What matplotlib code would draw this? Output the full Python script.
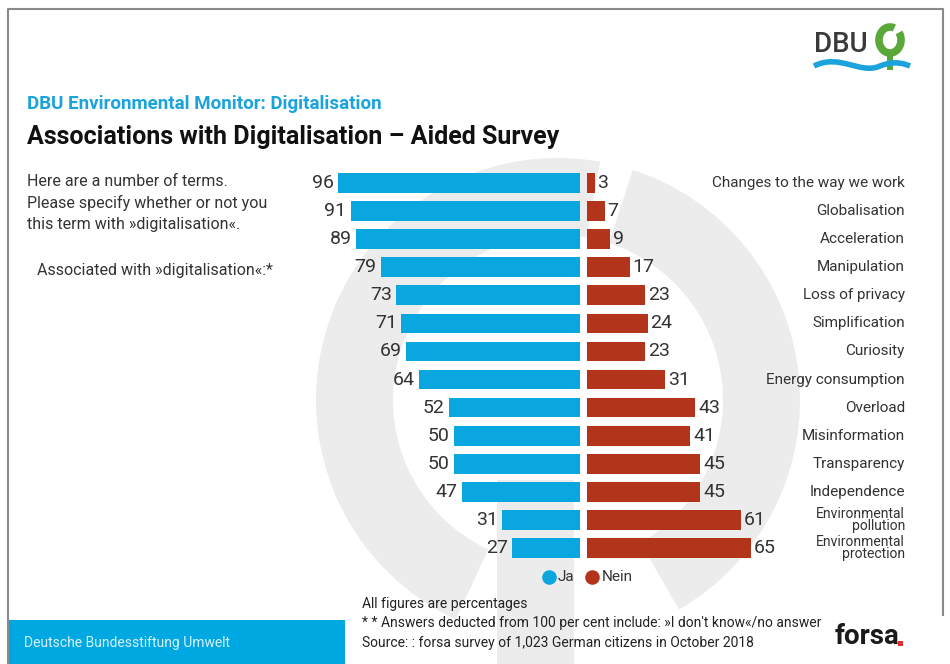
import matplotlib.pyplot as plt
from matplotlib import patches, transforms
from matplotlib.path import Path

plt.rcParams['font.family'] = ['Roboto', 'DejaVu Sans']

# data
terms = ["Changes to the way we work", "Globalisation", "Acceleration", "Manipulation",
         "Loss of privacy", "Simplification", "Curiosity", "Energy consumption",
         "Overload", "Misinformation", "Transparency", "Independence",
         "Environmental\npollution", "Environmental\nprotection"]
ja = [96, 91, 89, 79, 73, 71, 69, 64, 52, 50, 50, 47, 31, 27]
nein = [3, 7, 9, 17, 23, 24, 23, 31, 43, 41, 45, 45, 61, 65]

JA_COL = '#0aa6e0'
NEIN_COL = '#b2341b'
TXT = '#333333'
WM = '#ececec'

W, H = 950, 664
fig = plt.figure(figsize=(W / 100, H / 100), dpi=100)

# background axes in pixel units (y measured up from bottom)
bg = fig.add_axes([0, 0, 1, 1])
bg.set_xlim(0, W)
bg.set_ylim(0, H)
bg.axis('off')


def Y(y):
    return H - y


# watermark ring + stem
cx, cy = 558, Y(400)
bg.add_patch(patches.Wedge((cx, cy), 242, 80, 245, width=77, color=WM, lw=0))
bg.add_patch(patches.Wedge((cx, cy), 242, -60, 72, width=77, color=WM, lw=0))
bg.add_patch(patches.Rectangle((497, 0), 77, Y(480), color=WM, lw=0))

# frame
bg.plot([8, 8, 943, 943], [0, Y(9), Y(9), Y(615)], color='#8a8a8a', lw=1.5)

# footer band
bg.add_patch(patches.Rectangle((8, 0), 337, Y(620), color='#00a8e1', lw=0))
bg.text(24, Y(643), "Deutsche Bundesstiftung Umwelt", color='#d6f1fb', fontsize=10,
        va='center', ha='left')

# DBU logo
bg.text(814, Y(45), "DBU", fontsize=20, color='#3a3a3a', va='center', ha='left',
        fontweight='medium')
bg.add_patch(patches.Arc((890, Y(40)), 22, 26, theta1=70, theta2=400, lw=5.5, color='#5aa83a'))
bg.add_patch(patches.Rectangle((887, Y(70)), 6, 18, color='#5aa83a', lw=0))
wave = Path([(814, Y(66)), (840, Y(53)), (860, Y(75)), (880, Y(66)), (895, Y(60)), (905, Y(64)), (910, Y(66))],
            [Path.MOVETO, Path.CURVE4, Path.CURVE4, Path.CURVE4, Path.CURVE4, Path.CURVE4, Path.CURVE4])
bg.add_patch(patches.PathPatch(wave, fill=False, lw=4, color='#1aa3dc'))

# titles
bg.text(27, Y(104), "DBU Environmental Monitor: Digitalisation", color='#1aa3dc',
        fontsize=13.5, fontweight='bold', va='center', ha='left')
bg.text(27, Y(137), "Associations with Digitalisation \u2013 Aided Survey", color='#111111',
        fontsize=18, fontweight='bold', va='center', ha='left')

# question text
question = ["Here are a number of terms.", "Please specify whether or not you",
            "this term with \u00bbdigitalisation\u00ab."]
for k, q in enumerate(question):
    bg.text(27, Y(182 + 21 * k), q, color=TXT, fontsize=11.5, va='center', ha='left')
bg.text(37, Y(271), "Associated with \u00bbdigitalisation\u00ab:*", color=TXT, fontsize=11.5,
        va='center', ha='left')

# chart axes
ax = fig.add_axes([300 / W, (H - 580) / H, 500 / W, 420 / H])
ax.set_xlim(-112.5, 85.9)
ax.set_ylim(14.14, -0.819)
ax.axis('off')
ax.patch.set_alpha(0)

gap = 1.4
rows = list(range(len(terms)))
ax.barh(rows, [-v for v in ja], left=-gap, height=0.7, color=JA_COL)
ax.barh(rows, nein, left=gap, height=0.7, color=NEIN_COL)

for i, (a, b) in enumerate(zip(ja, nein)):
    ax.annotate(str(a), (-gap - a, i), xytext=(-3, 0), textcoords='offset points',
                ha='right', va='center', fontsize=14, color=TXT)
    ax.annotate(str(b), (gap + b, i), xytext=(2, 0), textcoords='offset points',
                ha='left', va='center', fontsize=14, color=TXT)

lab_tr = transforms.blended_transform_factory(bg.transData, ax.transData)
for i, t in enumerate(terms):
    two = '\n' in t
    ax.text(905, i, t, transform=lab_tr, ha='right', va='center', color=TXT,
            fontsize=10 if two else 11, linespacing=0.8)

# legend
bg.scatter([549], [Y(577)], s=110, color=JA_COL, lw=0)
bg.text(558, Y(577), "Ja", fontsize=11, color=TXT, va='center', ha='left')
bg.scatter([592], [Y(577)], s=110, color=NEIN_COL, lw=0)
bg.text(602, Y(577), "Nein", fontsize=11, color=TXT, va='center', ha='left')

# notes
notes = ["All figures are percentages",
         "* * Answers deducted from 100 per cent include: \u00bbI don't know\u00ab/no answer",
         "Source: : forsa survey of 1,023 German citizens in October 2018"]
for k, n in enumerate(notes):
    bg.text(362, Y(604 + 19.5 * k), n, fontsize=10, color='#222222', va='center', ha='left')

# forsa logo
bg.text(835, Y(637), "forsa", fontsize=20, fontweight='bold', color='#1a1a1a',
        va='center', ha='left')
bg.add_patch(patches.Rectangle((898, Y(646)), 5, 5, color='#e03030', lw=0))

fig.savefig('out.png', dpi=100)
